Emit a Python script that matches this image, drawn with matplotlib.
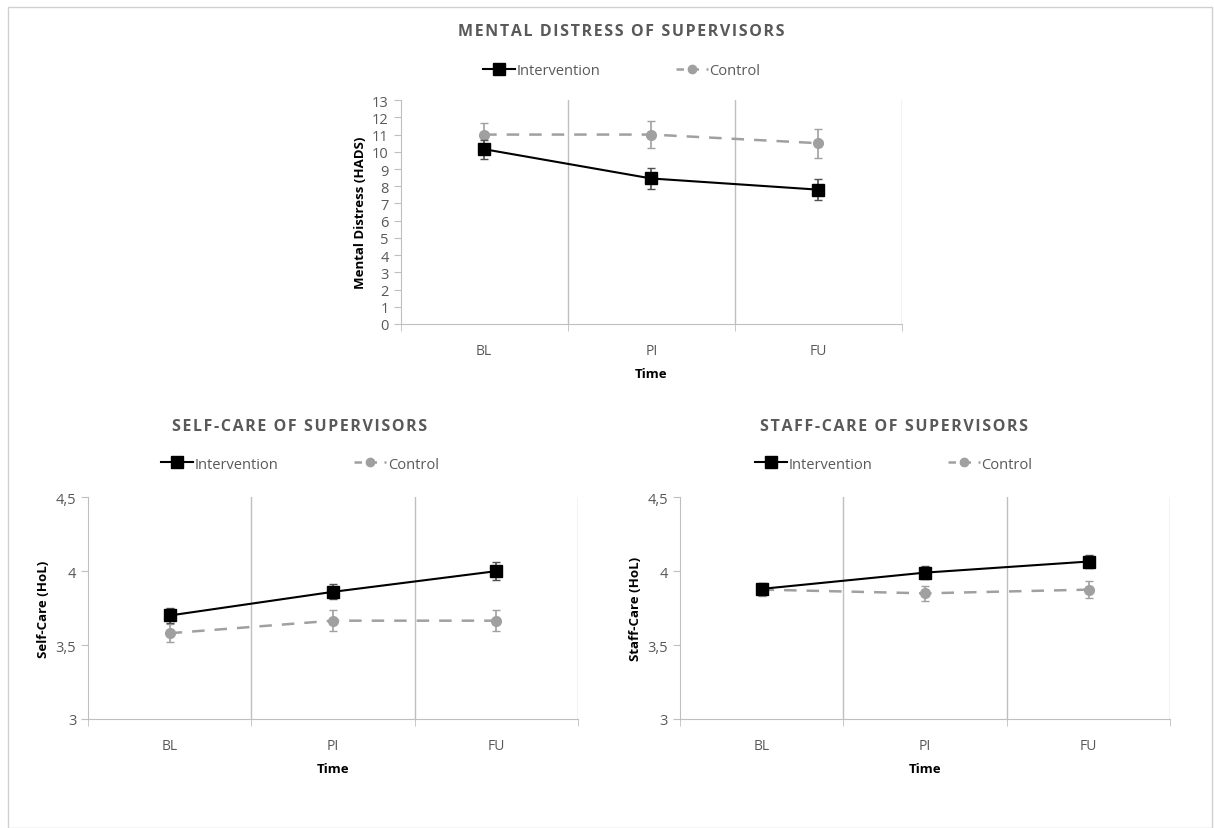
import matplotlib
matplotlib.use("Agg")
import matplotlib.pyplot as plt
from matplotlib.lines import Line2D
from matplotlib.patches import Rectangle

plt.rcParams['font.family'] = ['Open Sans', 'DejaVu Sans']

times = ["BL", "PI", "FU"]

# mental distress (HADS)
md_int = [10.15, 8.45, 7.8]
md_int_err = [0.55, 0.62, 0.62]
md_ctl = [11.0, 11.0, 10.5]
md_ctl_err = [0.65, 0.8, 0.85]

# self-care (HoL)
sc_int = [3.70, 3.86, 4.00]
sc_int_err = [0.05, 0.05, 0.06]
sc_ctl = [3.58, 3.665, 3.665]
sc_ctl_err = [0.06, 0.07, 0.07]

# staff-care (HoL)
st_int = [3.88, 3.99, 4.065]
st_int_err = [0.04, 0.045, 0.045]
st_ctl = [3.875, 3.85, 3.875]
st_ctl_err = [0.04, 0.05, 0.06]

TXT = "#595959"
GRID = "#bfbfbf"
CTL = "#a0a0a0"


def spaced(s):
    # excel-like letter spacing for the chart titles
    return "\u200a".join(s)


def panel(ax, yi, ei, yc, ec, ylim, yticks, ylabels, ylabel, title, tx, ty, ly):
    x = list(range(len(times)))
    ax.errorbar(x, yc, yerr=ec, color=CTL, ls=(0, (5, 4)), lw=1.8,
                marker="o", ms=7, capsize=3, elinewidth=1.2, ecolor=CTL, zorder=3)
    ax.errorbar(x, yi, yerr=ei, color="black", lw=1.5, marker="s", ms=8,
                capsize=3, elinewidth=1.2, ecolor="#505050", zorder=4)
    ax.set_xlim(-0.5, 2.5)
    ax.set_ylim(*ylim)
    ax.set_yticks(yticks)
    ax.set_yticklabels(ylabels)
    ax.set_xticks(x)
    ax.set_xticklabels(times)
    ax.set_xticks([-0.5, 0.5, 1.5, 2.5], minor=True)
    ax.tick_params(axis="x", which="major", length=0, pad=14, labelsize=10, colors=TXT)
    ax.tick_params(axis="x", which="minor", length=5, color=GRID)
    ax.tick_params(axis="y", length=5, color=GRID, labelsize=10.5, colors=TXT)
    for b in [0.5, 1.5, 2.5]:
        ax.axvline(b, color=GRID, lw=1, zorder=0)
    for s in ["top", "right"]:
        ax.spines[s].set_visible(False)
    for s in ["left", "bottom"]:
        ax.spines[s].set_color(GRID)
    ax.set_ylabel(ylabel, fontsize=9.5, fontweight="bold")
    ax.set_xlabel("Time", fontsize=9.5, fontweight="bold", labelpad=6)
    fig.text(tx, ty, spaced(title), ha="center", va="center", fontsize=11.5,
             fontweight="bold", color=TXT)
    handles = [
        Line2D([], [], color="black", lw=1.5, marker="s", ms=8),
        Line2D([], [], color=CTL, lw=1.8, ls=(0, (3, 3)), marker="o", ms=6),
    ]
    ax.legend(handles, ["Intervention", "Control"], ncol=2, frameon=False,
              loc="center", bbox_to_anchor=(tx, ly), bbox_transform=fig.transFigure,
              fontsize=10.5, labelcolor=TXT, handlelength=2.2, handletextpad=0.1,
              columnspacing=5.2)


fig = plt.figure(figsize=(12.14, 8.29), dpi=100)
fig.patches.append(Rectangle((0.007, 0.0), 0.991, 0.99, transform=fig.transFigure,
                             fill=False, ec="#d0d0d0", lw=1))

ax1 = fig.add_axes([0.330, 0.608, 0.413, 0.270])
panel(ax1, md_int, md_int_err, md_ctl, md_ctl_err, (0, 13), list(range(14)),
      [str(v) for v in range(14)], "Mental Distress (HADS)",
      "MENTAL DISTRESS OF SUPERVISORS", 0.512, 0.961, 0.914)

ax2 = fig.add_axes([0.0725, 0.1315, 0.4035, 0.2675])
panel(ax2, sc_int, sc_int_err, sc_ctl, sc_ctl_err, (3, 4.5), [3, 3.5, 4, 4.5],
      ["3", "3,5", "4", "4,5"], "Self-Care (HoL)",
      "SELF-CARE OF SUPERVISORS", 0.247, 0.485, 0.439)

ax3 = fig.add_axes([0.560, 0.1315, 0.404, 0.2675])
panel(ax3, st_int, st_int_err, st_ctl, st_ctl_err, (3, 4.5), [3, 3.5, 4, 4.5],
      ["3", "3,5", "4", "4,5"], "Staff-Care (HoL)",
      "STAFF-CARE OF SUPERVISORS", 0.736, 0.485, 0.439)

fig.savefig("out.png", dpi=100)
